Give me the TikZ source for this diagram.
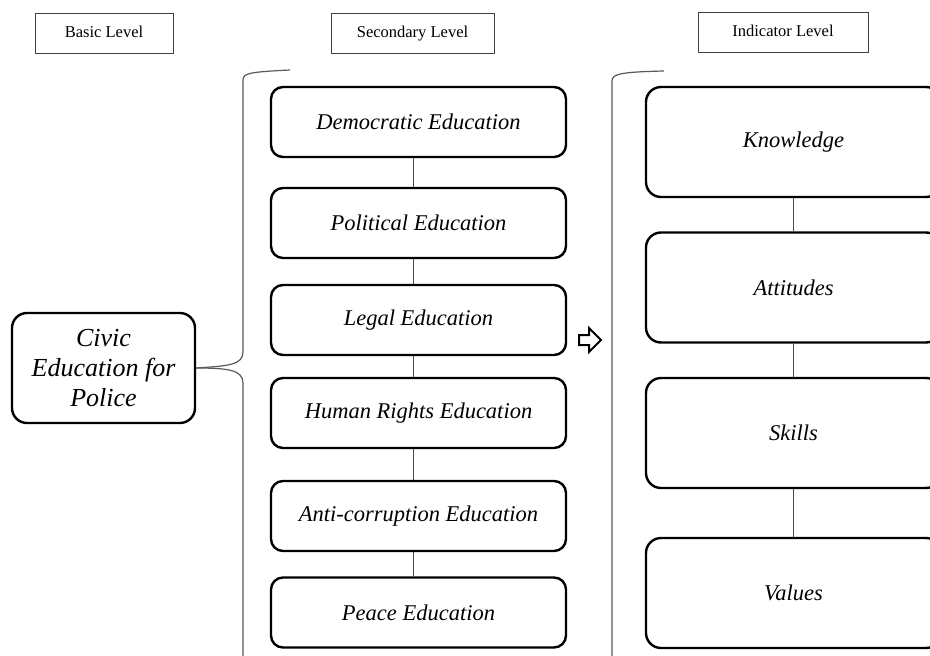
\documentclass[tikz,border=0pt]{standalone}
\usepackage{fontspec}
\setmainfont{Liberation Serif}
\begin{document}
\begin{tikzpicture}[x=1pt,y=-1pt,
  hdr/.style={draw=black!75, line width=0.9pt, rectangle, inner sep=0pt,
    text height=11.5pt, text depth=3.5pt,
    font=\fontsize{16.5}{19}\selectfont},
  secbox/.style={draw=black, line width=2.4pt, rounded corners=12pt, inner sep=0pt,
    minimum width=295pt, minimum height=70pt, font=\fontsize{22.5}{27}\selectfont\itshape},
  indbox/.style={draw=black, line width=2.4pt, rounded corners=15pt, inner sep=0pt,
    minimum width=295pt, minimum height=110pt, font=\fontsize{22.5}{27}\selectfont\itshape},
  civbox/.style={draw=black, line width=2.4pt, rounded corners=15pt, inner sep=0pt,
    minimum width=183pt, minimum height=110pt, align=center,
    font=\fontsize{26}{30}\selectfont\itshape},
  conn/.style={draw=black!70, line width=0.9pt},
  bracket/.style={draw=black!65, line width=1.2pt}]
\useasboundingbox (0,0) rectangle (930,656);
\clip (0,0) rectangle (930,656);

% headers
\node[hdr, minimum width=138pt, minimum height=40pt] (hbasic) at (104,33) {Basic Level};
\node[hdr, minimum width=163pt, minimum height=40pt] (hsec) at (412.5,33) {Secondary Level};
\node[hdr, minimum width=170pt, minimum height=40pt] (hind) at (783,32) {Indicator Level};

% basic level
\node[civbox] (civic) at (103.5,368) {Civic\\Education for\\Police};

% secondary level
\node[secbox] (dem) at (418.5,122) {Democratic Education};
\node[secbox] (pol) at (418.5,223) {Political Education};
\node[secbox] (leg) at (418.5,320) {Legal Education};
\node[secbox] (hum) at (418.5,413) {Human Rights Education};
\node[secbox] (anti) at (418.5,516) {Anti-corruption Education};
\node[secbox] (peace) at (418.5,612.5) {Peace Education};

\draw[conn] ([xshift=-5pt]dem.south) -- ([xshift=-5pt]pol.north);
\draw[conn] ([xshift=-5pt]pol.south) -- ([xshift=-5pt]leg.north);
\draw[conn] ([xshift=-5pt]leg.south) -- ([xshift=-5pt]hum.north);
\draw[conn] ([xshift=-5pt]hum.south) -- ([xshift=-5pt]anti.north);
\draw[conn] ([xshift=-5pt]anti.south) -- ([xshift=-5pt]peace.north);

% indicator level
\node[indbox] (know) at (793.5,142) {Knowledge};
\node[indbox] (att) at (793.5,287.5) {Attitudes};
\node[indbox] (skill) at (793.5,433) {Skills};
\node[indbox] (val) at (793.5,593) {Values};

\draw[conn] (know.south) -- (att.north);
\draw[conn] (att.south) -- (skill.north);
\draw[conn] (skill.south) -- (val.north);

% left brace
\coordinate (b1top) at (290,70);
\coordinate (b1bot) at (243,662);
\draw[bracket] (civic.east) .. controls (228,366) and (243,365) .. (243,352)
  -- (243,80) .. controls (243,73) and (250,72) .. (b1top);
\draw[bracket] (civic.east) .. controls (228,368) and (243,370) .. (243,383)
  -- (b1bot);

% right bracket
\coordinate (b2top) at (664,71);
\coordinate (b2bot) at (612,662);
\draw[bracket] (b2bot) -- (612,81) .. controls (612,74) and (620,72) .. (b2top);

% outlined arrow
\draw[draw=black, line width=2pt, fill=white, line join=miter]
  (579,335) -- (589,335) -- (589,328) -- (601,340) -- (589,352) -- (589,345) -- (579,345) -- cycle;
\end{tikzpicture}
\end{document}
